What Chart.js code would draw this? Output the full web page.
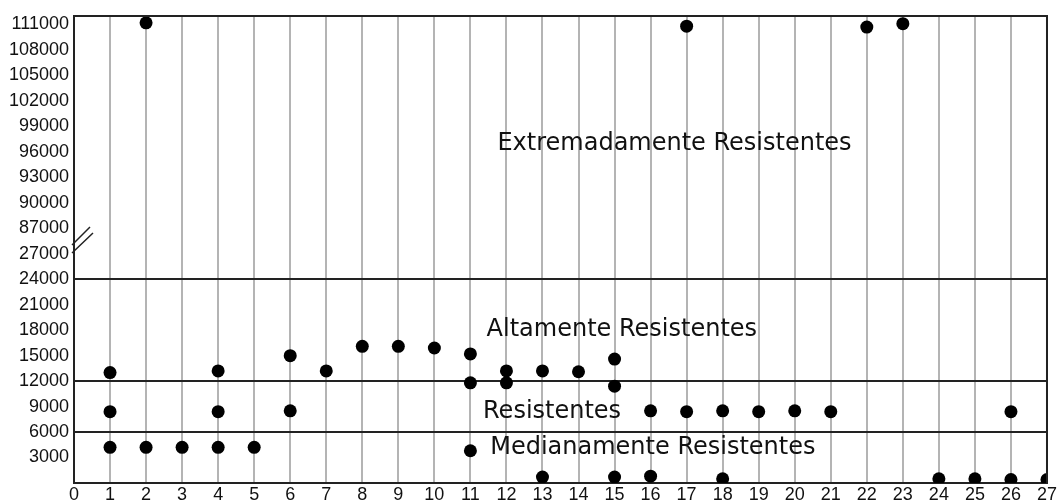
<!DOCTYPE html>
<html lang="pt">
<head>
    <meta charset="UTF-8">
    <title>Resistência dos isolados</title>
    <script src="https://cdn.jsdelivr.net/npm/chart.js"></script>
    <style>
        body {
            margin: 0;
            background: #fff;
        }
        #wrap {
            width: 1058px;
            height: 501px;
            position: relative;
        }
    </style>
</head>
<body>
    <div id="wrap"><canvas id="grafico"></canvas></div>

    <script>
        // isolados (eixo x) e valores
        const isolados = [1, 1, 1, 2, 2, 3, 4, 4, 4, 5, 6, 6, 7, 8, 9, 10, 11, 11, 11, 12, 12,
                          13, 13, 14, 15, 15, 15, 16, 16, 17, 17, 18, 18, 19, 20, 21, 22, 23,
                          24, 25, 26, 26, 27];
        const valores = [13000, 8400, 4200, 111200, 4200, 4200, 13200, 8400, 4200, 4200, 15000, 8500,
                         13200, 16100, 16100, 15900, 15200, 11800, 3800, 13200, 11800,
                         13200, 700, 13100, 14600, 11400, 700, 8500, 800, 110800, 8400, 8500, 500,
                         8400, 8500, 8400, 110700, 111100,
                         500, 500, 8400, 400, 400];

        const yTicks = [3000, 6000, 9000, 12000, 15000, 18000, 21000, 24000, 27000,
                        87000, 90000, 93000, 96000, 99000, 102000, 105000, 108000, 111000];
        const faixas = [6000, 12000, 24000];
        const rotulos = [
            { texto: 'Extremadamente Resistentes', x: 11.75, y: 97000 },
            { texto: 'Altamente Resistentes', x: 11.45, y: 18000 },
            { texto: 'Resistentes', x: 11.35, y: 8400 },
            { texto: 'Medianamente Resistentes', x: 11.55, y: 4100 }
        ];

        // eixo com quebra: 27000 -> 87000 ocupa um só intervalo
        const corteBaixo = 27000, corteAlto = 87000, passo = 3000;
        const salto = corteAlto - corteBaixo - passo;
        const paraEixo = v => v > corteBaixo ? v - salto : v;
        const doEixo = v => v > corteBaixo ? v + salto : v;
        const topo = paraEixo(111000) + 1000;

        const pontos = isolados.map((x, i) => ({ x: x, y: paraEixo(valores[i]) }));

        const desenhos = {
            id: 'desenhos',
            afterDraw(chart) {
                const ctx = chart.ctx;
                const xs = chart.scales.x, ys = chart.scales.y;
                // moldura superior e direita
                ctx.save();
                ctx.strokeStyle = '#222';
                ctx.lineWidth = 2;
                ctx.beginPath();
                ctx.moveTo(chart.chartArea.left, chart.chartArea.top);
                ctx.lineTo(chart.chartArea.right, chart.chartArea.top);
                ctx.lineTo(chart.chartArea.right, chart.chartArea.bottom);
                ctx.stroke();

                // sinal de quebra do eixo
                const yq = ys.getPixelForValue(corteBaixo + passo / 2);
                const x0 = chart.chartArea.left;
                ctx.lineWidth = 1.5;
                ctx.beginPath();
                ctx.moveTo(x0 - 2, yq + 4);
                ctx.lineTo(x0 + 16, yq - 14);
                ctx.moveTo(x0 - 2, yq + 12);
                ctx.lineTo(x0 + 19, yq - 8);
                ctx.stroke();

                // nomes das faixas
                ctx.fillStyle = '#111';
                ctx.font = '24px "DejaVu Sans"';
                ctx.textBaseline = 'middle';
                ctx.textAlign = 'left';
                rotulos.forEach(r => {
                    ctx.fillText(r.texto, xs.getPixelForValue(r.x), ys.getPixelForValue(paraEixo(r.y)));
                });
                ctx.restore();
            }
        };

        const ctx = document.getElementById('grafico').getContext('2d');
        new Chart(ctx, {
            type: 'scatter',
            data: {
                datasets: [{
                    data: pontos,
                    backgroundColor: '#000',
                    borderWidth: 0,
                    pointRadius: 6.5,
                    pointHoverRadius: 6.5
                }]
            },
            options: {
                responsive: true,
                maintainAspectRatio: false,
                animation: false,
                layout: { padding: { top: 16, right: 3, left: 0, bottom: 0 } },
                plugins: {
                    legend: { display: false },
                    tooltip: { enabled: false }
                },
                scales: {
                    x: {
                        type: 'linear',
                        min: 0,
                        max: 27,
                        afterFit: s => { s.height = 18; },
                        ticks: {
                            stepSize: 1,
                            padding: 1,
                            color: '#111',
                            font: { family: 'Liberation Sans', size: 18 }
                        },
                        grid: {
                            drawTicks: false,
                            lineWidth: 2,
                            color: c => c.tick.value === 27 ? '#222' : '#b4b4b4'
                        },
                        border: { color: '#222', width: 2 }
                    },
                    y: {
                        type: 'linear',
                        min: 0,
                        max: topo,
                        afterFit: s => { s.width = 74; },
                        afterBuildTicks: s => {
                            s.ticks = [0].concat(yTicks.map(paraEixo)).map(v => ({ value: v }));
                        },
                        ticks: {
                            padding: 5,
                            color: '#111',
                            font: { family: 'Liberation Sans', size: 18 },
                            callback: v => v === 0 ? '' : String(doEixo(v))
                        },
                        grid: {
                            drawTicks: false,
                            lineWidth: 2,
                            color: c => faixas.map(paraEixo).includes(c.tick.value) ? '#222' : 'rgba(0,0,0,0)'
                        },
                        border: { color: '#222', width: 2 }
                    }
                }
            },
            plugins: [desenhos]
        });
    </script>
</body>
</html>
